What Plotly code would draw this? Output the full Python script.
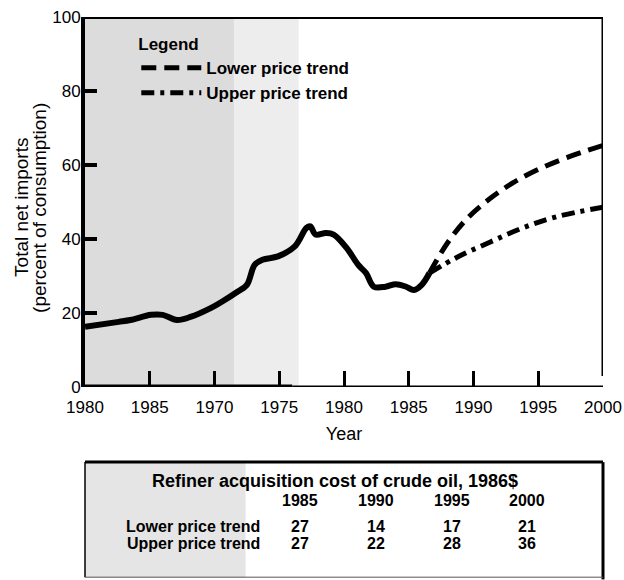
import plotly.graph_objects as go

# ---------------- data ----------------
hist_years = [1960, 1962.6, 1963.5, 1965.1, 1966, 1967.1, 1968.2, 1969.7, 1970.6, 1971.8,
              1972.5, 1973.1, 1973.7, 1974.9, 1976.2, 1977.1, 1977.4, 1977.8, 1978.6, 1979.2,
              1980.2, 1981.1, 1981.7, 1982.3, 1983.2, 1984.0, 1984.8, 1985.4, 1986.0, 1986.6]
hist_values = [16.3, 17.6, 18.1, 19.5, 19.5, 18.1, 19.0, 21.3, 23.1, 25.8,
               27.6, 33.0, 34.4, 35.3, 38.0, 43.0, 43.4, 41.2, 41.6, 41.2,
               37.6, 33.0, 30.8, 27.1, 27.1, 27.8, 27.1, 26.2, 27.6, 30.8]

lower_years = [1986.6, 1988.0, 1989.5, 1991.3, 1993.1, 1995.0, 1997.2, 2000]
lower_values = [30.8, 39.0, 45.5, 51.0, 55.3, 58.8, 62.0, 65.3]

upper_years = [1986.6, 1988.7, 1991.3, 1993.8, 1996.4, 2000]
upper_values = [30.8, 35.0, 39.2, 43.0, 46.0, 48.6]

tick_years = [1960, 1965, 1970, 1975, 1980, 1985, 1990, 1995, 2000]
tick_labels = ["1980", "1985", "1970", "1975", "1980", "1985", "1990", "1995", "2000"]

y_title_lines = ["Total net imports", "(percent of consumption)"]

table_title = "Refiner acquisition cost of crude oil, 1986$"
table_years = ["1985", "1990", "1995", "2000"]
table_rows = ["Lower price trend", "Upper price trend"]
lower_cost = [27, 14, 17, 21]
upper_cost = [27, 22, 28, 36]

# ---------------- figure ----------------
FONT = "Liberation Sans, Arial, Helvetica, sans-serif"
fig = go.Figure()

fig.add_trace(go.Scatter(x=hist_years, y=hist_values, mode="lines",
                         line=dict(color="black", width=6, shape="spline"),
                         showlegend=False, hoverinfo="skip"))
fig.add_trace(go.Scatter(x=lower_years, y=lower_values, mode="lines",
                         name="Lower price trend",
                         line=dict(color="black", width=5, dash="15px,8px", shape="spline")))
fig.add_trace(go.Scatter(x=upper_years, y=upper_values, mode="lines",
                         name="Upper price trend",
                         line=dict(color="black", width=5, dash="13px,6px,4px,6px", shape="spline")))

shapes = []
# scanned grey texture (decorative)
shapes.append(dict(type="rect", xref="x", yref="y", x0=1960, x1=1971.5, y0=0, y1=100,
                   fillcolor="rgba(110,110,110,0.24)", line=dict(width=0), layer="below"))
shapes.append(dict(type="rect", xref="x", yref="y", x0=1971.5, x1=1976.5, y0=0, y1=100,
                   fillcolor="rgba(110,110,110,0.12)", line=dict(width=0), layer="below"))
shapes.append(dict(type="rect", xref="paper", yref="paper", x0=0, x1=0.31, y0=-0.514, y1=-0.203,
                   fillcolor="rgba(110,110,110,0.18)", line=dict(width=0), layer="below"))
# frame
shapes.append(dict(type="line", xref="x", yref="y", x0=1960, x1=1976, y0=0, y1=0,
                   line=dict(color="black", width=5)))
shapes.append(dict(type="line", xref="x", yref="y", x0=1976, x1=2000, y0=0, y1=0,
                   line=dict(color="black", width=3)))
shapes.append(dict(type="line", xref="x", yref="y", x0=1960, x1=2000, y0=100, y1=100,
                   line=dict(color="black", width=4)))
shapes.append(dict(type="line", xref="x", yref="y", x0=2000, x1=2000, y0=3, y1=100,
                   line=dict(color="black", width=3)))
# table box
shapes.append(dict(type="line", xref="paper", yref="paper", x0=0, x1=1.0, y0=-0.203, y1=-0.203,
                   line=dict(color="black", width=3)))
shapes.append(dict(type="line", xref="paper", yref="paper", x0=1.0, x1=1.0, y0=-0.203, y1=-0.52,
                   line=dict(color="black", width=3)))
shapes.append(dict(type="line", xref="paper", yref="paper", x0=0, x1=0, y0=-0.203, y1=-0.514,
                   line=dict(color="black", width=1.5)))
shapes.append(dict(type="line", xref="paper", yref="paper", x0=0, x1=1.0, y0=-0.514, y1=-0.514,
                   line=dict(color="#555", width=1)))

annotations = []
# y-axis title as two rotated lines (tighter line spacing than the axis title allows)
for xpx, line in zip([22, 40], y_title_lines):
    annotations.append(dict(xref="paper", yref="paper", x=(xpx - 85) / 518, y=0.484,
                            text=line, textangle=-90, showarrow=False,
                            font=dict(family=FONT, size=19, color="black"),
                            xanchor="center", yanchor="middle"))

bold = dict(family=FONT, size=16, color="black", weight="bold")
title_font = dict(family=FONT, size=18, color="black", weight="bold")
annotations.append(dict(xref="paper", yref="paper", x=0.483, y=-0.254, text=table_title,
                        showarrow=False, font=title_font, xanchor="center", yanchor="middle"))
col_x = [0.415, 0.562, 0.708, 0.853]
for cx, yr in zip(col_x, table_years):
    annotations.append(dict(xref="paper", yref="paper", x=cx, y=-0.308, text=yr,
                            showarrow=False, font=bold, xanchor="center", yanchor="middle"))
row_y = [-0.376, -0.422]
for ry, label, vals in zip(row_y, table_rows, [lower_cost, upper_cost]):
    annotations.append(dict(xref="paper", yref="paper", x=0.342, y=ry, text=label,
                            showarrow=False, font=bold, xanchor="right", yanchor="middle"))
    for cx, v in zip(col_x, vals):
        annotations.append(dict(xref="paper", yref="paper", x=cx, y=ry, text=str(v),
                                showarrow=False, font=bold, xanchor="center", yanchor="middle"))

fig.update_layout(
    width=624, height=580,
    margin=dict(l=85, r=21, t=17, b=193, autoexpand=False),
    paper_bgcolor="white", plot_bgcolor="white",
    font=dict(family=FONT, size=18, color="black"),
    shapes=shapes, annotations=annotations,
    legend=dict(x=0.099, y=0.97, xanchor="left", yanchor="top",
                bgcolor="rgba(0,0,0,0)",
                title=dict(text="Legend", font=dict(family=FONT, size=17, weight="bold")),
                font=dict(family=FONT, size=17, weight="bold"),
                itemwidth=60, tracegroupgap=0),
    xaxis=dict(range=[1960, 2000], tickvals=tick_years, ticktext=tick_labels,
               ticks="inside", ticklen=16, tickwidth=3, tickcolor="black",
               showline=False, showgrid=False, zeroline=False, automargin=False,
               tickfont=dict(size=17), ticklabelstandoff=8,
               title=dict(text="Year", font=dict(size=18), standoff=11)),
    yaxis=dict(range=[0, 100], tickvals=[0, 20, 40, 60, 80, 100],
               ticks="inside", ticklen=12, tickwidth=4, tickcolor="black",
               showline=True, linewidth=4, linecolor="black",
               showgrid=False, zeroline=False, automargin=False,
               tickfont=dict(size=17), ticklabelstandoff=-3),
)

fig.write_html("out.html", post_script="document.body.style.margin='0';",
               config={"displayModeBar": False})
